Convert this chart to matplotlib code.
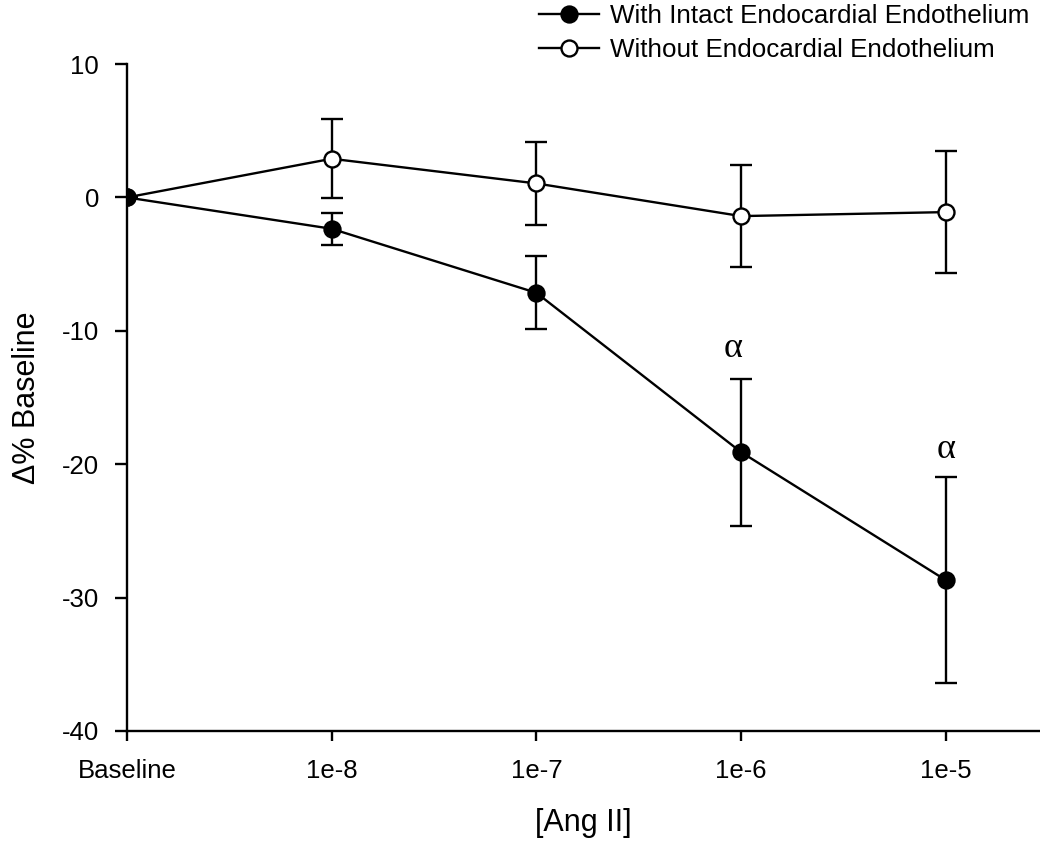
import matplotlib
matplotlib.use("Agg")
import matplotlib.pyplot as plt
from matplotlib.lines import Line2D

plt.rcParams["font.family"] = ["Liberation Sans", "DejaVu Sans"]
plt.rcParams["axes.unicode_minus"] = False

# data
x_labels = ["Baseline", "1e-8", "1e-7", "1e-6", "1e-5"]
x_pos = [0, 1, 2, 3, 4]

intact_mean = [0.0, -2.35, -7.15, -19.1, -28.7]
intact_err = [0.0, 1.2, 2.75, 5.5, 7.7]

without_mean = [0.0, 2.9, 1.05, -1.4, -1.1]
without_err = [0.0, 2.95, 3.1, 3.85, 4.6]

alpha_x = [2.96, 4]
alpha_y = [-11.3, -18.9]

fig = plt.figure(figsize=(10.4, 8.43), dpi=100)
ax = fig.add_axes([0.122, 0.133, 0.878, 0.791])

ax.errorbar(x_pos, without_mean, yerr=without_err, color="black", lw=1.7,
            marker="o", ms=11.5, mfc="white", mec="black", mew=1.7,
            capsize=8, capthick=1.7, elinewidth=1.7, zorder=3)
ax.errorbar(x_pos, intact_mean, yerr=intact_err, color="black", lw=1.7,
            marker="o", ms=11.5, mfc="black", mec="black", mew=1.7,
            capsize=8, capthick=1.7, elinewidth=1.7, zorder=4)

for xa, ya in zip(alpha_x, alpha_y):
    ax.text(xa, ya, "\u03b1", ha="center", va="center", fontsize=26,
            family=["Liberation Serif", "DejaVu Serif"])

ax.set_xlim(0, 4.46)
ax.set_ylim(-40, 10)
ax.set_yticks([10, 0, -10, -20, -30, -40])
ax.set_xticks(x_pos)
ax.set_xticklabels(x_labels)

for side in ["top", "right"]:
    ax.spines[side].set_visible(False)
for side in ["left", "bottom"]:
    ax.spines[side].set_linewidth(1.7)
    ax.spines[side].set_clip_on(False)

ax.tick_params(axis="both", direction="out", length=7, width=1.7,
               labelsize=18.5)
ax.tick_params(axis="x", pad=13)
ax.tick_params(axis="y", length=9, pad=11)

ax.set_xlabel("[Ang II]", fontsize=22, labelpad=18)
ax.set_ylabel("\u0394% Baseline", fontsize=22, labelpad=14)

# legend handles without the error bar glyphs
h_intact = Line2D([], [], color="black", lw=1.7, marker="o", ms=11.5,
                  mfc="black", mec="black", mew=1.7)
h_without = Line2D([], [], color="black", lw=1.7, marker="o", ms=11.5,
                   mfc="white", mec="black", mew=1.7)
fig.legend([h_intact, h_without],
           ["With Intact Endocardial Endothelium",
            "Without Endocardial Endothelium"],
           loc="upper left", bbox_to_anchor=(0.515, 1.0), frameon=False,
           fontsize=18.7, handlelength=2.3, handletextpad=0.4,
           labelspacing=0.38, borderpad=0.15, borderaxespad=0)

fig.savefig("out.png", dpi=100)
